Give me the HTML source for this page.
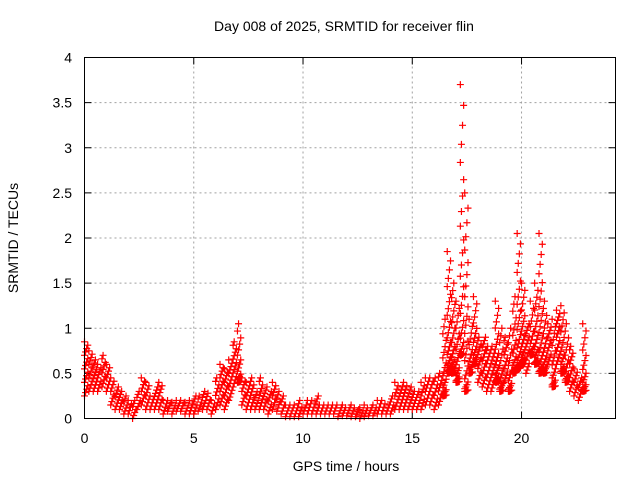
<!DOCTYPE html>
<html><head><meta charset="utf-8"><style>
body{margin:0;background:#fff}
svg{display:block;font-family:"Liberation Sans",sans-serif;font-size:14px}
</style></head><body>
<svg id="chart" width="640" height="480">
<rect width="640" height="480" fill="#fff"/>
<text x="344" y="31" text-anchor="middle">Day 008 of 2025, SRMTID for receiver flin</text>
<text x="346" y="471" text-anchor="middle">GPS time / hours</text>
<text transform="translate(18,238) rotate(-90)" text-anchor="middle">SRMTID / TECUs</text>
<g id="grid"></g><g id="ticks"></g><g id="marks"></g>
<rect x="84.5" y="57.5" width="531" height="361" fill="none" stroke="#000"/>
</svg>
<script>
const times=[0,0.2,0.4,0.6,0.8,1,1.2,1.4,1.6,1.8,2,2.2,2.4,2.6,2.8,3,3.2,3.4,3.6,3.8,4,4.2,4.4,4.6,4.8,5,5.2,5.4,5.6,5.8,6,6.2,6.4,6.6,6.8,7,7.2,7.4,7.6,7.8,8,8.2,8.4,8.6,8.8,9,9.2,9.4,9.6,9.8,10,10.2,10.4,10.6,10.8,11,11.2,11.4,11.6,11.8,12,12.2,12.4,12.6,12.8,13,13.2,13.4,13.6,13.8,14,14.2,14.4,14.6,14.8,15,15.2,15.4,15.6,15.8,16,16.2,16.4,16.6,16.8,17,17.2,17.4,17.6,17.8,18,18.2,18.4,18.6,18.8,19,19.2,19.4,19.6,19.8,20,20.2,20.4,20.6,20.8,21,21.2,21.4,21.6,21.8,22,22.2,22.4,22.6,22.8];
const lowVals=[.25,.3,.3,.3,.35,.3,.15,.1,.1,.05,.05,0,.1,.15,.1,.1,.1,.1,.05,.08,.05,.08,.08,.05,.05,.05,.08,.1,.1,.05,.1,.15,.1,.2,.35,.4,.15,.1,.1,.1,.1,.1,.05,.1,.08,.05,.02,.02,.02,.02,.05,.05,.05,.05,.05,.05,.05,.05,.02,.03,.03,.02,.02,0,.02,.03,.03,.05,.05,.05,.05,.1,.1,.1,.1,.1,.1,.1,.15,.15,.1,.15,.25,.5,.5,.4,.7,.3,.5,.6,.4,.35,.3,.3,.4,.3,.4,.3,.5,.55,.6,.5,.7,.6,.5,.5,.6,.35,.6,.5,.4,.3,.25,.2,.3];
const highVals=[.85,.75,.65,.6,.7,.6,.45,.35,.3,.25,.2,.2,.3,.45,.4,.25,.35,.4,.2,.2,.18,.2,.2,.18,.2,.25,.25,.3,.28,.2,.45,.6,.55,.65,.85,1.05,.45,.4,.45,.3,.45,.35,.3,.4,.3,.25,.15,.15,.15,.2,.15,.2,.2,.25,.15,.15,.15,.15,.12,.15,.12,.15,.1,.12,.15,.12,.15,.2,.2,.15,.25,.4,.35,.4,.35,.3,.3,.4,.45,.45,.45,.5,1.1,1.85,1.5,1.3,3.7,2.5,1.1,1.35,.9,.9,.8,.8,1.3,1,.9,1,1.35,2.05,1.5,1.05,1.3,1.5,2.05,1.3,1.05,1.1,1.2,1.25,1.05,.8,.55,.45,1.05];
const xTicks=[0,5,10,15,20];
const yTicks=[0,0.5,1,1.5,2,2.5,3,3.5,4];
const yTickLabels=["0","0.5","1","1.5","2","2.5","3","3.5","4"];
const X0=84.5,X1=615.5,Y0=418.5,Y1=57.5,XMAX=24.3,YMAX=4;
const sx=v=>X0+(X1-X0)*v/XMAX, sy=v=>Y0-(Y0-Y1)*v/YMAX;
const NS="http://www.w3.org/2000/svg";
const mk=(t,a,p)=>{const e=document.createElementNS(NS,t);for(const k in a)e.setAttribute(k,a[k]);p.appendChild(e);return e;};
const grid=document.getElementById('grid'),ticks=document.getElementById('ticks'),marks=document.getElementById('marks');
xTicks.forEach(v=>{const x=sx(v);
 if(v>0){const g=mk('line',{x1:x,x2:x,y1:Y0,y2:Y1,stroke:'#a0a0a0','stroke-dasharray':'2,3'},grid);
 
 }
 mk('line',{x1:x,x2:x,y1:Y0,y2:Y0-7,stroke:'#000'},ticks);
 mk('line',{x1:x,x2:x,y1:Y1,y2:Y1+7,stroke:'#000'},ticks);
 const t=mk('text',{x:x,y:443,'text-anchor':'middle'},ticks);t.textContent=v;
 
 
});
yTicks.forEach((v,i)=>{const y=sy(v);
 if(v>0&&v<YMAX){const g=mk('line',{x1:X0,x2:X1,y1:y,y2:y,stroke:'#a0a0a0','stroke-dasharray':'2,3'},grid);
 
 }
 mk('line',{x1:X0,x2:X0+7,y1:y,y2:y,stroke:'#000'},ticks);
 mk('line',{x1:X1,x2:X1-7,y1:y,y2:y,stroke:'#000'},ticks);
 const t=mk('text',{x:72,y:y+5,'text-anchor':'end'},ticks);t.textContent=yTickLabels[i];
 
 
});
let d='';
times.forEach((t,i)=>{const lo=lowVals[i],hi=highVals[i];
 const span=hi-lo;
 const n=Math.max(3,Math.min(28,Math.ceil(span*90/3.5)));
 const pw=span>0.6?2.2:1;
 for(let k=0;k<=n;k++){const v=lo+span*Math.pow(k/n,pw);const xv=t+0.2*((k%4)/4);
  const x=sx(xv),y=sy(v);d+=`M${x-3.5},${y}h7M${x},${y-3.5}v7`;}
});
const p=mk('path',{d:d,stroke:'#ff0000','stroke-width':1.2,fill:'none'},marks);


</script>
</body></html>
